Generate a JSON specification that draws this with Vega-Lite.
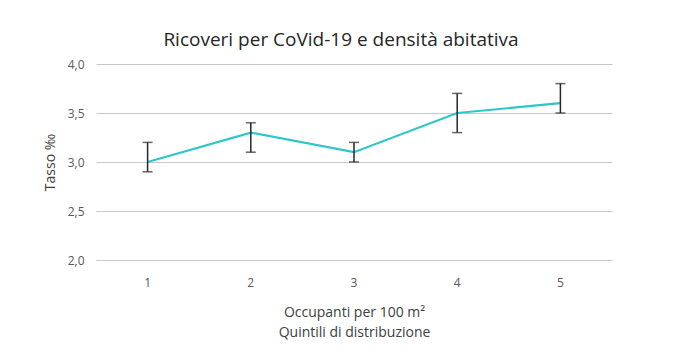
{
  "$schema": "https://vega.github.io/schema/vega-lite/v6.json",
  "autosize": "none",
  "width": 516,
  "height": 196,
  "padding": {"left": 96, "top": 64, "right": 73, "bottom": 95},
  "background": "white",
  "title": {
    "text": "Ricoveri per CoVid-19 e densità abitativa",
    "font": "Open Sans",
    "fontSize": 19,
    "fontWeight": "normal",
    "color": "#262626",
    "anchor": "middle",
    "dx": -13,
    "offset": 8
  },
  "config": {
    "view": {"stroke": null},
    "font": "Open Sans"
  },
  "data": {
    "values": [
      {"q": "1", "v": 3.0, "lo": 2.9, "hi": 3.2},
      {"q": "2", "v": 3.3, "lo": 3.1, "hi": 3.4},
      {"q": "3", "v": 3.1, "lo": 3.0, "hi": 3.2},
      {"q": "4", "v": 3.5, "lo": 3.3, "hi": 3.7},
      {"q": "5", "v": 3.6, "lo": 3.5, "hi": 3.8}
    ]
  },
  "encoding": {
    "x": {
      "field": "q",
      "type": "ordinal",
      "scale": {"paddingInner": 0, "paddingOuter": 0},
      "axis": {
        "title": ["Occupanti per 100 m²", "Quintili di distribuzione"],
        "titleFont": "Open Sans",
        "titleFontSize": 14,
        "titleFontWeight": "normal",
        "titleColor": "#404040",
        "titlePadding": 17,
        "titleLineHeight": 20,
        "labelAngle": 0,
        "labelFontSize": 12,
        "labelColor": "#595959",
        "labelPadding": 17,
        "domain": false,
        "ticks": false,
        "grid": false
      }
    }
  },
  "layer": [
    {
      "mark": {"type": "line", "color": "#2ec7c9", "strokeWidth": 2.2},
      "encoding": {
        "y": {
          "field": "v",
          "type": "quantitative",
          "title": "Tasso ‰",
          "scale": {"domain": [2, 4], "zero": false},
          "axis": {
            "title": "Tasso ‰",
            "titleFont": "Open Sans",
            "titleFontSize": 14,
            "titleFontWeight": "normal",
            "titleColor": "#404040",
            "titlePadding": 10,
            "values": [2, 2.5, 3, 3.5, 4],
            "labelExpr": "replace(format(datum.value, '.1f'), '.', ',')",
            "labelFontSize": 12,
            "labelColor": "#595959",
            "labelPadding": 12,
            "domain": false,
            "ticks": false,
            "gridColor": "#c8c8c8",
            "gridWidth": 1
          }
        }
      }
    },
    {
      "mark": {"type": "errorbar", "ticks": {"size": 10, "color": "#262626"}, "rule": {"color": "#262626", "strokeWidth": 1.5}, "thickness": 1.5},
      "encoding": {
        "y": {"field": "lo", "type": "quantitative", "title": "Tasso ‰"},
        "y2": {"field": "hi"}
      }
    }
  ]
}
